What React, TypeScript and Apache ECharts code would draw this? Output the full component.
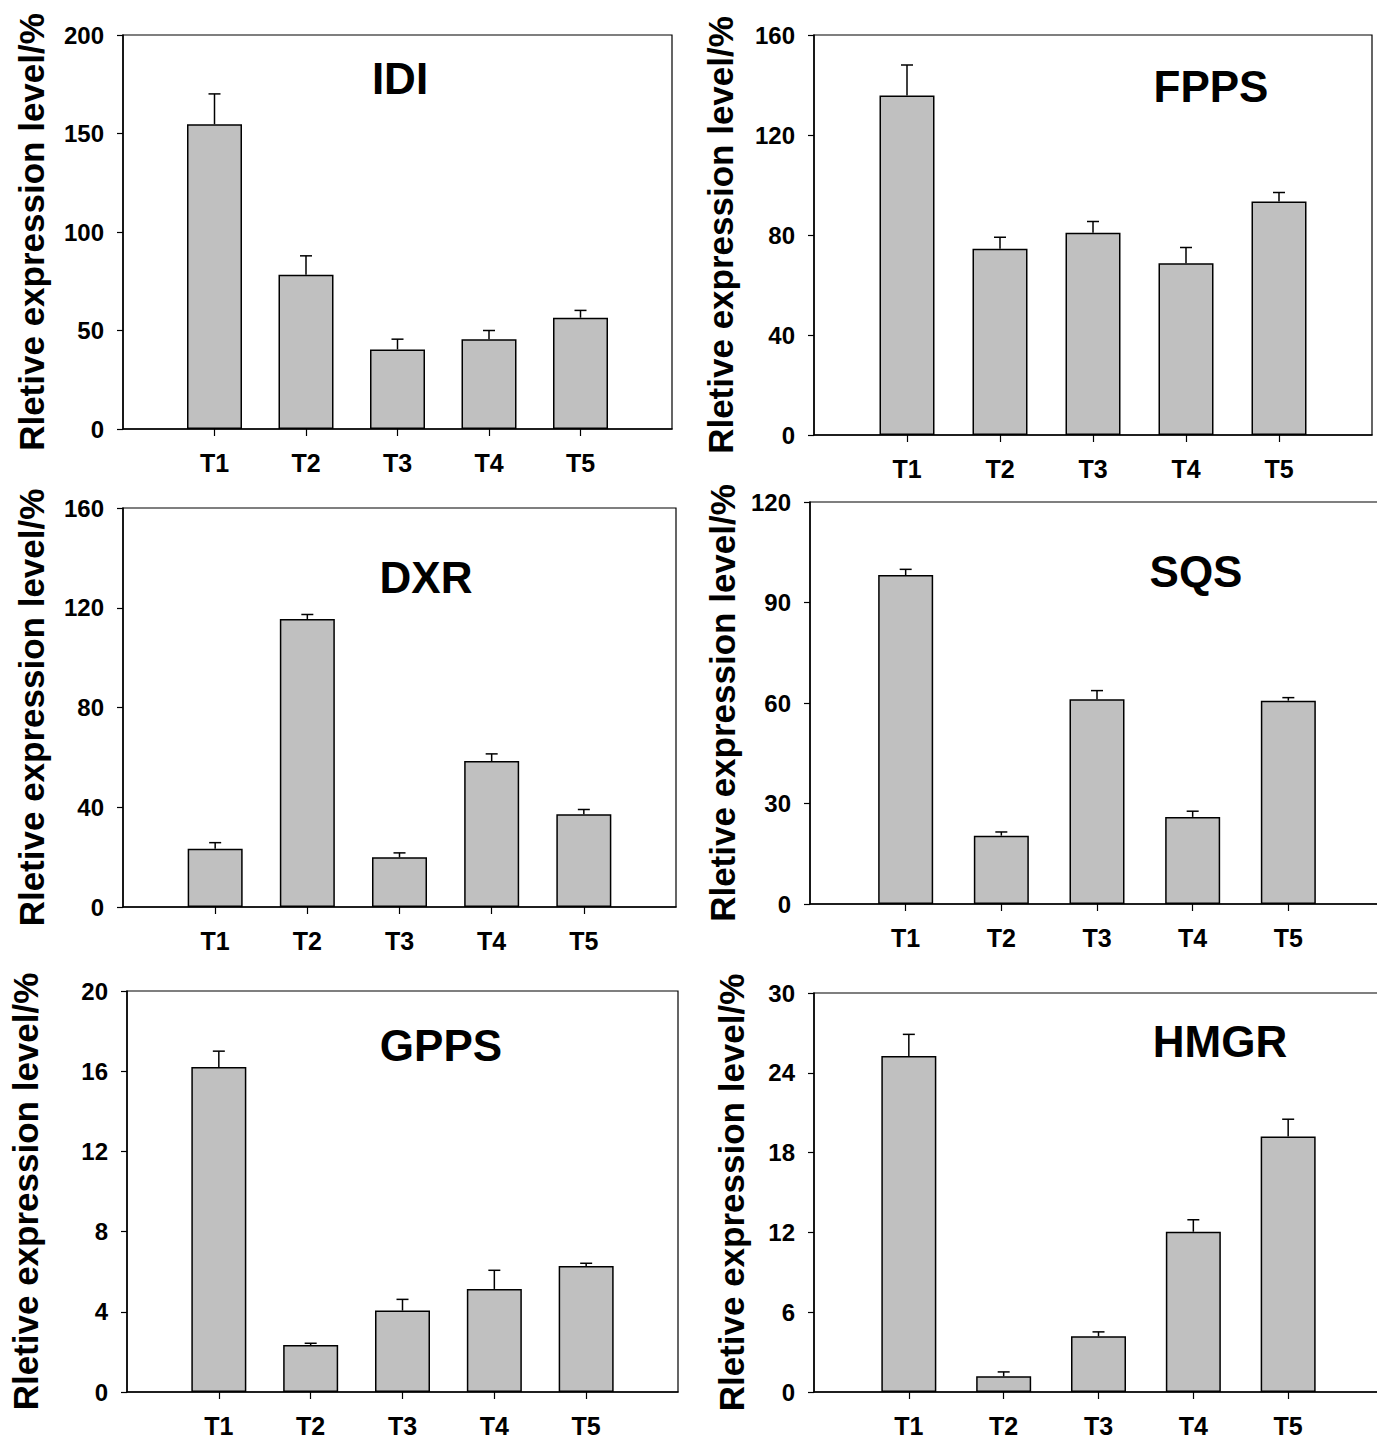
import React, { useEffect, useRef } from "react";
import * as echarts from "echarts";

// ---- data ----
const categories = ["T1", "T2", "T3", "T4", "T5"];
const genes = ["IDI", "FPPS", "DXR", "SQS", "GPPS", "HMGR"];
const yAxisName = "Rletive expression level/%";

const idiValues = [154.7, 78.3, 40.4, 45.6, 56.5];
const idiErrors = [15.4, 9.6, 5.2, 4.4, 3.7];
const fppsValues = [135.8, 74.5, 80.9, 68.7, 93.4];
const fppsErrors = [12.2, 4.6, 4.5, 6.3, 3.6];
const dxrValues = [23.4, 115.5, 19.9, 58.5, 37.2];
const dxrErrors = [2.4, 1.8, 1.8, 2.9, 1.9];
const sqsValues = [98.2, 20.4, 61.1, 26.0, 60.7];
const sqsErrors = [1.7, 1.1, 2.6, 1.7, 0.9];
const gppsValues = [16.21, 2.34, 4.06, 5.14, 6.28];
const gppsErrors = [0.79, 0.09, 0.56, 0.93, 0.14];
const hmgrValues = [25.26, 1.18, 4.19, 12.05, 19.21];
const hmgrErrors = [1.63, 0.33, 0.33, 0.9, 1.3];

const yMax = [200, 160, 160, 120, 20, 30];
const yInterval = [50, 40, 40, 30, 4, 6];

const allValues = [idiValues, fppsValues, dxrValues, sqsValues, gppsValues, hmgrValues];
const allErrors = [idiErrors, fppsErrors, dxrErrors, sqsErrors, gppsErrors, hmgrErrors];

// ---- layout (pixels) ----
const W = 1377;
const H = 1442;
const layout = [
  { L: 123, R: 672, T: 35, B: 429, tx: 400, ty: 78, gap: 74 },
  { L: 814, R: 1372, T: 35, B: 435, tx: 1211, ty: 86, gap: 76 },
  { L: 123, R: 676, T: 508, B: 907, tx: 426, ty: 577, gap: 74 },
  { L: 810, R: 1384, T: 502, B: 904, tx: 1196, ty: 571, gap: 70 },
  { L: 127, R: 678, T: 991, B: 1392, tx: 441, ty: 1045, gap: 84 },
  { L: 814, R: 1383, T: 993, B: 1392, tx: 1220, ty: 1041, gap: 65 },
];

const FONT = "'Liberation Sans', Arial, sans-serif";
const axisCats = ["", ...categories, " "];

export default function App() {
  const ref = useRef<HTMLDivElement>(null);
  useEffect(() => {
    if (!ref.current) return;
    const chart = echarts.init(ref.current, undefined, { renderer: "svg" });

    const grids: any[] = [];
    const xAxes: any[] = [];
    const yAxes: any[] = [];
    const series: any[] = [];
    const graphics: any[] = [];

    genes.forEach((g, k) => {
      const p = layout[k];
      grids.push({
        left: p.L,
        top: p.T,
        width: p.R - p.L,
        height: p.B - p.T,
        show: true,
        borderColor: "#000",
        borderWidth: 1.2,
        backgroundColor: "transparent",
        containLabel: false,
        outerBoundsMode: "none",
      });
      xAxes.push({
        type: "category",
        gridIndex: k,
        data: axisCats,
        boundaryGap: false,
        axisLine: { show: true, lineStyle: { color: "#000", width: 1.5 } },
        axisTick: {
          show: true,
          length: 7,
          inside: false,
          interval: (i: number, v: string) => v.trim() !== "",
          lineStyle: { color: "#000", width: 1.2 },
        },
        axisLabel: {
          show: true,
          interval: 0,
          margin: 21,
          color: "#000",
          fontFamily: FONT,
          fontWeight: "bold",
          fontSize: 25,
        },
        splitLine: { show: false },
      });
      yAxes.push({
        type: "value",
        gridIndex: k,
        min: 0,
        max: yMax[k],
        interval: yInterval[k],
        name: yAxisName,
        nameLocation: "middle",
        nameGap: p.gap,
        nameTextStyle: {
          color: "#000",
          fontFamily: FONT,
          fontWeight: "bold",
          fontSize: 35,
        },
        axisLine: { show: true, lineStyle: { color: "#000", width: 1.5 } },
        axisTick: { show: true, length: 6, inside: false, lineStyle: { color: "#000", width: 1.2 } },
        axisLabel: {
          margin: 19,
          color: "#000",
          fontFamily: FONT,
          fontWeight: "bold",
          fontSize: 24,
        },
        splitLine: { show: false },
      });
      const vals = allValues[k];
      const errs = allErrors[k];
      series.push({
        type: "bar",
        xAxisIndex: k,
        yAxisIndex: k,
        data: ["-", ...vals, "-"],
        barWidth: 55,
        itemStyle: { color: "#c0c0c0", borderColor: "#000", borderWidth: 1.5 },
        silent: true,
        z: 2,
      });
      series.push({
        type: "custom",
        xAxisIndex: k,
        yAxisIndex: k,
        data: vals.map((v, i) => [i + 1, v, errs[i]]),
        encode: { x: 0, y: 1 },
        z: 3,
        silent: true,
        renderItem: (params: any, api: any) => {
          const x = api.value(0);
          const v = api.value(1);
          const e = api.value(2);
          const p0 = api.coord([x, v]);
          const p1 = api.coord([x, v + e]);
          const st = { stroke: "#000", lineWidth: 1.5 };
          return {
            type: "group",
            children: [
              { type: "line", shape: { x1: p0[0], y1: p0[1], x2: p1[0], y2: p1[1] }, style: st },
              { type: "line", shape: { x1: p1[0] - 6, y1: p1[1], x2: p1[0] + 6, y2: p1[1] }, style: st },
            ],
          };
        },
      });
      graphics.push({
        type: "text",
        x: p.tx,
        y: p.ty,
        style: {
          text: g,
          fill: "#000",
          font: `bold 44px ${FONT}`,
          align: "center",
          verticalAlign: "middle",
        },
      });
    });

    chart.setOption({
      animation: false,
      backgroundColor: "#fff",
      grid: grids,
      xAxis: xAxes,
      yAxis: yAxes,
      series,
      graphic: graphics,
    });
    return () => chart.dispose();
  }, []);

  return (
    <div
      ref={ref}
      style={{ position: "absolute", left: 0, top: 0, width: W, height: H, background: "#fff" }}
    />
  );
}
